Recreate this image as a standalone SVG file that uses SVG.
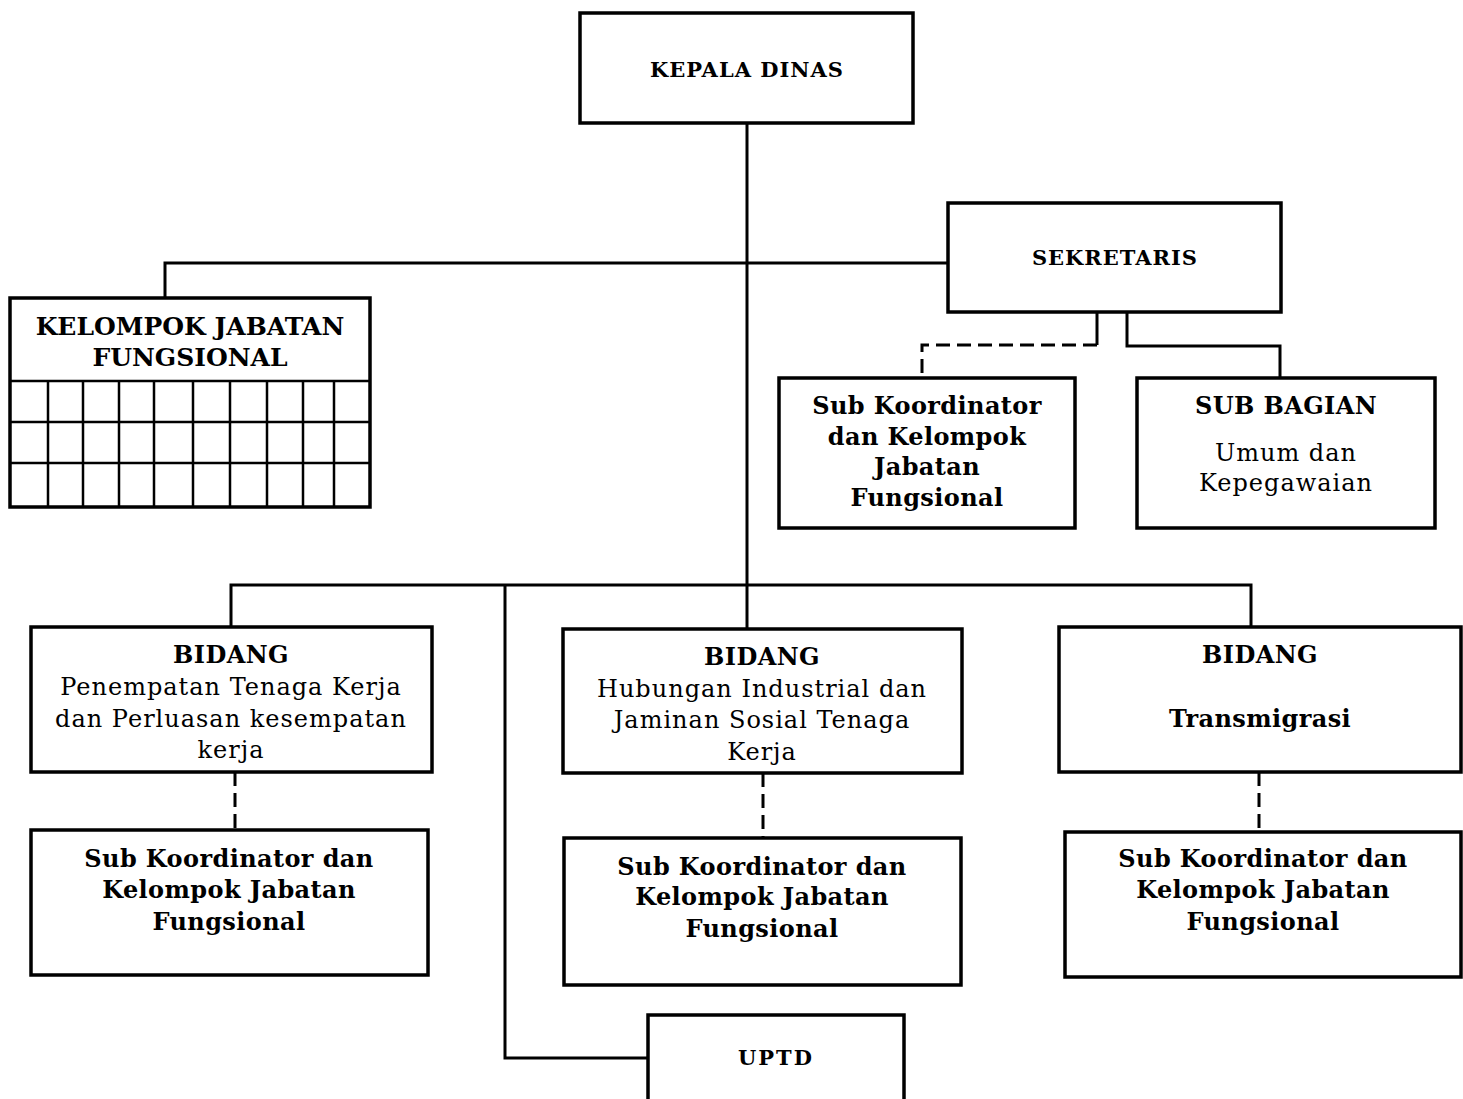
<svg xmlns="http://www.w3.org/2000/svg" width="1463" height="1099" viewBox="0 0 1463 1099">
<style>
.box{fill:#fff;stroke:#000;stroke-width:3.5}
.ln{fill:none;stroke:#000;stroke-width:3}
.ds{fill:none;stroke:#000;stroke-width:3;stroke-dasharray:14 7}
.grid{fill:none;stroke:#000;stroke-width:2.5}
text{font-family:"DejaVu Serif","Liberation Serif",serif;text-anchor:middle;fill:#000}
.b{font-weight:bold;font-size:24px;letter-spacing:0.4px}
.s{font-weight:bold;font-size:21px;letter-spacing:1px}
.h{font-weight:bold;font-size:25px}
.r{font-size:24px;font-weight:normal;letter-spacing:1px}
</style>
<rect width="1463" height="1099" fill="#fff"/>
<g id="connectors">
<path class="ln" d="M747 123 V585"/>
<path class="ln" d="M948 263 H165 V298"/>
<path class="ln" d="M1097 312 V345"/>
<path class="ds" d="M1097 345 H922 V378"/>
<path class="ln" d="M1127 312 V346 H1280 V378"/>
<path class="ln" d="M231 627 V585 H1251 V627"/>
<path class="ln" d="M747 585 V629"/>
<path class="ln" d="M505 585 V1058 H648"/>
<path class="ds" d="M235 772 V830"/>
<path class="ds" d="M763 773 V838"/>
<path class="ds" d="M1259 772 V832"/>
</g>
<g id="kepala-dinas">
<rect class="box" x="580" y="13" width="333" height="110"/>
<text class="s" x="747" y="77">KEPALA DINAS</text>
</g>
<g id="sekretaris">
<rect class="box" x="948" y="203" width="333" height="109"/>
<text class="s" x="1115" y="265">SEKRETARIS</text>
</g>
<g id="kelompok-jabatan-fungsional">
<rect class="box" x="10" y="298" width="360" height="209"/>
<path class="grid" d="M10 381 H370 M10 422 H370 M10 463 H370 M48 381 V507 M83 381 V507 M119 381 V507 M154 381 V507 M193 381 V507 M230 381 V507 M267 381 V507 M303 381 V507 M334 381 V507"/>
<text class="h" x="190" y="335">KELOMPOK JABATAN</text>
<text class="h" x="190" y="366">FUNGSIONAL</text>
</g>
<g id="sub-koordinator-sekretariat">
<rect class="box" x="779" y="378" width="296" height="150"/>
<text class="b" x="927" y="414">Sub Koordinator</text>
<text class="b" x="927" y="445">dan Kelompok</text>
<text class="b" x="927" y="475">Jabatan</text>
<text class="b" x="927" y="506">Fungsional</text>
</g>
<g id="sub-bagian-umum">
<rect class="box" x="1137" y="378" width="298" height="150"/>
<text class="b" x="1286" y="414">SUB BAGIAN</text>
<text class="r" x="1286" y="461">Umum dan</text>
<text class="r" x="1286" y="491">Kepegawaian</text>
</g>
<g id="bidang-penempatan">
<rect class="box" x="31" y="627" width="401" height="145"/>
<text class="b" x="231" y="663">BIDANG</text>
<text class="r" x="231" y="695">Penempatan Tenaga Kerja</text>
<text class="r" x="231" y="727">dan Perluasan kesempatan</text>
<text class="r" x="231" y="758">kerja</text>
</g>
<g id="bidang-hubungan-industrial">
<rect class="box" x="563" y="629" width="399" height="144"/>
<text class="b" x="762" y="665">BIDANG</text>
<text class="r" x="762" y="697">Hubungan Industrial dan</text>
<text class="r" x="762" y="728">Jaminan Sosial Tenaga</text>
<text class="r" x="762" y="760">Kerja</text>
</g>
<g id="bidang-transmigrasi">
<rect class="box" x="1059" y="627" width="402" height="145"/>
<text class="b" x="1260" y="663">BIDANG</text>
<text class="b" x="1260" y="727">Transmigrasi</text>
</g>
<g id="sub-koordinator-1">
<rect class="box" x="31" y="830" width="397" height="145"/>
<text class="b" x="229" y="867">Sub Koordinator dan</text>
<text class="b" x="229" y="898">Kelompok Jabatan</text>
<text class="b" x="229" y="930">Fungsional</text>
</g>
<g id="sub-koordinator-2">
<rect class="box" x="564" y="838" width="397" height="147"/>
<text class="b" x="762" y="875">Sub Koordinator dan</text>
<text class="b" x="762" y="905">Kelompok Jabatan</text>
<text class="b" x="762" y="937">Fungsional</text>
</g>
<g id="sub-koordinator-3">
<rect class="box" x="1065" y="832" width="396" height="145"/>
<text class="b" x="1263" y="867">Sub Koordinator dan</text>
<text class="b" x="1263" y="898">Kelompok Jabatan</text>
<text class="b" x="1263" y="930">Fungsional</text>
</g>
<g id="uptd">
<rect class="box" x="648" y="1015" width="256" height="100"/>
<text class="s" x="776" y="1065" style="letter-spacing:2px">UPTD</text>
</g>
</svg>
